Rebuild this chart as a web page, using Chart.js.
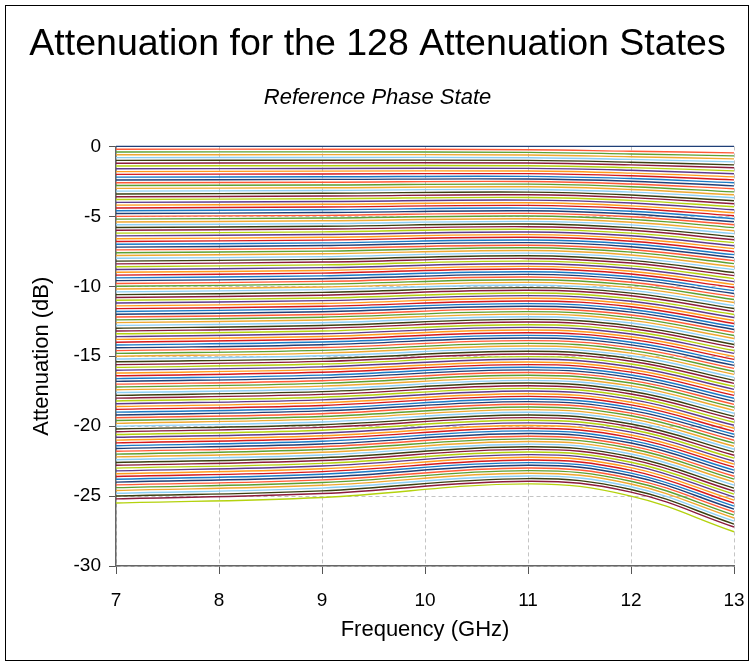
<!DOCTYPE html>
<html><head><meta charset="utf-8">
<script src="https://cdn.jsdelivr.net/npm/chart.js@4"></script>
<style>html,body{margin:0;padding:0;background:#fff}canvas{display:block}</style>
</head>
<body>
<canvas id="c" width="755" height="666"></canvas>
<script>
// Frequencies (GHz) at which the attenuation of every state is read
const frequencies = [7, 9, 11, 12, 13];

// Attenuation (dB) of the 128 states (state 0 = reference) at each frequency
const att7GHz = [
0,-0.2,-0.4,-0.6,-0.8,-1,-1.2,-1.4,-1.6,-1.8,-2,-2.2,-2.4,-2.6,-2.8,-3,
-3.2,-3.4,-3.6,-3.8,-4,-4.2,-4.4,-4.6,-4.8,-5,-5.2,-5.4,-5.6,-5.8,-6,-6.2,
-6.4,-6.6,-6.8,-7,-7.2,-7.4,-7.6,-7.8,-8,-8.2,-8.4,-8.6,-8.8,-9,-9.2,-9.4,
-9.6,-9.8,-10,-10.2,-10.4,-10.6,-10.8,-11,-11.2,-11.4,-11.6,-11.8,-12,-12.2,-12.4,-12.6,
-12.8,-13,-13.2,-13.4,-13.6,-13.8,-14,-14.2,-14.4,-14.6,-14.8,-15,-15.2,-15.4,-15.6,-15.8,
-16,-16.2,-16.4,-16.6,-16.8,-17,-17.2,-17.4,-17.6,-17.8,-18,-18.2,-18.4,-18.6,-18.8,-19,
-19.2,-19.4,-19.6,-19.8,-20,-20.2,-20.4,-20.6,-20.8,-21,-21.2,-21.4,-21.6,-21.8,-22,-22.2,
-22.4,-22.6,-22.8,-23,-23.2,-23.4,-23.6,-23.8,-24,-24.2,-24.4,-24.6,-24.8,-25,-25.2,-25.5];

const att9GHz = [
0,-0.20,-0.39,-0.59,-0.79,-0.99,-1.18,-1.38,-1.58,-1.77,-1.97,-2.17,-2.36,-2.56,-2.76,-2.96,
-3.15,-3.35,-3.55,-3.74,-3.94,-4.14,-4.33,-4.53,-4.73,-4.93,-5.12,-5.32,-5.52,-5.71,-5.91,-6.11,
-6.30,-6.50,-6.70,-6.90,-7.09,-7.29,-7.49,-7.68,-7.88,-8.08,-8.27,-8.47,-8.67,-8.87,-9.06,-9.26,
-9.46,-9.65,-9.85,-10.05,-10.24,-10.44,-10.64,-10.84,-11.03,-11.23,-11.43,-11.62,-11.82,-12.02,-12.21,-12.41,
-12.61,-12.81,-13.00,-13.20,-13.40,-13.59,-13.79,-13.99,-14.18,-14.38,-14.58,-14.78,-14.97,-15.17,-15.37,-15.56,
-15.76,-15.96,-16.15,-16.35,-16.55,-16.75,-16.94,-17.14,-17.34,-17.53,-17.73,-17.93,-18.12,-18.32,-18.52,-18.72,
-18.91,-19.11,-19.31,-19.50,-19.70,-19.90,-20.09,-20.29,-20.49,-20.69,-20.88,-21.08,-21.28,-21.47,-21.67,-21.87,
-22.06,-22.26,-22.46,-22.66,-22.85,-23.05,-23.25,-23.44,-23.64,-23.84,-24.03,-24.23,-24.43,-24.63,-24.82,-25.10];

const att11GHz = [
0,-0.24,-0.43,-0.62,-0.81,-1.00,-1.19,-1.38,-1.57,-1.76,-1.95,-2.14,-2.33,-2.51,-2.70,-2.89,
-3.08,-3.27,-3.46,-3.65,-3.84,-4.03,-4.22,-4.41,-4.60,-4.79,-4.98,-5.17,-5.36,-5.55,-5.74,-5.93,
-6.12,-6.31,-6.50,-6.69,-6.88,-7.07,-7.25,-7.44,-7.63,-7.82,-8.01,-8.20,-8.39,-8.58,-8.77,-8.96,
-9.15,-9.34,-9.53,-9.72,-9.91,-10.10,-10.29,-10.48,-10.67,-10.86,-11.05,-11.24,-11.43,-11.62,-11.81,-11.99,
-12.18,-12.37,-12.56,-12.75,-12.94,-13.13,-13.32,-13.51,-13.70,-13.89,-14.08,-14.27,-14.46,-14.65,-14.84,-15.03,
-15.22,-15.41,-15.60,-15.79,-15.98,-16.17,-16.36,-16.55,-16.73,-16.92,-17.11,-17.30,-17.49,-17.68,-17.87,-18.06,
-18.25,-18.44,-18.63,-18.82,-19.01,-19.20,-19.39,-19.58,-19.77,-19.96,-20.15,-20.34,-20.53,-20.72,-20.91,-21.10,
-21.29,-21.47,-21.66,-21.85,-22.04,-22.23,-22.42,-22.61,-22.80,-22.99,-23.18,-23.37,-23.56,-23.75,-23.94,-24.13];

const att12GHz = [
0,-0.35,-0.54,-0.74,-0.93,-1.13,-1.32,-1.52,-1.71,-1.91,-2.10,-2.30,-2.49,-2.69,-2.88,-3.08,
-3.27,-3.47,-3.66,-3.86,-4.05,-4.25,-4.44,-4.64,-4.83,-5.03,-5.22,-5.42,-5.61,-5.81,-6.00,-6.20,
-6.39,-6.59,-6.78,-6.98,-7.17,-7.37,-7.56,-7.76,-7.95,-8.15,-8.34,-8.54,-8.73,-8.93,-9.12,-9.32,
-9.51,-9.71,-9.90,-10.10,-10.29,-10.49,-10.68,-10.88,-11.07,-11.27,-11.46,-11.66,-11.85,-12.05,-12.24,-12.44,
-12.63,-12.83,-13.02,-13.22,-13.41,-13.61,-13.80,-14.00,-14.19,-14.39,-14.58,-14.78,-14.97,-15.17,-15.36,-15.56,
-15.75,-15.95,-16.14,-16.34,-16.53,-16.73,-16.92,-17.12,-17.31,-17.51,-17.70,-17.90,-18.09,-18.29,-18.48,-18.68,
-18.87,-19.07,-19.26,-19.46,-19.65,-19.85,-20.04,-20.24,-20.43,-20.63,-20.82,-21.02,-21.21,-21.41,-21.60,-21.80,
-21.99,-22.19,-22.38,-22.58,-22.77,-22.97,-23.16,-23.36,-23.55,-23.75,-23.94,-24.14,-24.33,-24.53,-24.72,-25.00];

const att13GHz = [
0,-0.46,-0.68,-0.89,-1.11,-1.32,-1.53,-1.75,-1.96,-2.18,-2.39,-2.60,-2.82,-3.03,-3.25,-3.46,
-3.67,-3.89,-4.10,-4.32,-4.53,-4.74,-4.96,-5.17,-5.39,-5.60,-5.81,-6.03,-6.24,-6.46,-6.67,-6.88,
-7.10,-7.31,-7.53,-7.74,-7.95,-8.17,-8.38,-8.60,-8.81,-9.02,-9.24,-9.45,-9.67,-9.88,-10.09,-10.31,
-10.52,-10.74,-10.95,-11.16,-11.38,-11.59,-11.81,-12.02,-12.23,-12.45,-12.66,-12.88,-13.09,-13.30,-13.52,-13.73,
-13.95,-14.16,-14.37,-14.59,-14.80,-15.02,-15.23,-15.44,-15.66,-15.87,-16.09,-16.30,-16.51,-16.73,-16.94,-17.16,
-17.37,-17.58,-17.80,-18.01,-18.23,-18.44,-18.65,-18.87,-19.08,-19.30,-19.51,-19.72,-19.94,-20.15,-20.37,-20.58,
-20.79,-21.01,-21.22,-21.44,-21.65,-21.86,-22.08,-22.29,-22.51,-22.72,-22.93,-23.15,-23.36,-23.58,-23.79,-24.00,
-24.22,-24.43,-24.65,-24.86,-25.07,-25.29,-25.50,-25.72,-25.93,-26.14,-26.36,-26.57,-26.79,-27.00,-27.21,-27.55];

const xTickLabels = [7, 8, 9, 10, 11, 12, 13];
const yTickLabels = [0, -5, -10, -15, -20, -25, -30];

const palette = ['#1F3F77','#FF5A36','#5BA033','#F0A830','#8DCFF5','#3B3F10',
                 '#8C1C3C','#B4D20E','#5D3A8E','#FF9B1A','#D7191C','#1A7BC6'];

const columns = [att7GHz, att9GHz, att11GHz, att12GHz, att13GHz];
const datasets = att7GHz.map((_, k) => ({
  label: 'State ' + k,
  data: frequencies.map((f, i) => ({x: f, y: columns[i][k]})),
  borderColor: palette[k % palette.length],
  borderWidth: 1.4,
  pointRadius: 0,
  tension: 0.4,
  fill: false,
  clip: 3
}));

const FONT = "'Liberation Sans', Arial, sans-serif";

const framePlugin = {
  id: 'frame',
  beforeDraw(chart) {
    const ctx = chart.ctx;
    ctx.save(); ctx.fillStyle = '#fff'; ctx.fillRect(0, 0, chart.width, chart.height); ctx.restore();
  },
  afterDraw(chart) {
    const ctx = chart.ctx;
    ctx.save(); ctx.strokeStyle = '#000'; ctx.lineWidth = 1;
    ctx.strokeRect(5.5, 5.5, 743, 655); ctx.restore();
  }
};

new Chart(document.getElementById('c'), {
  type: 'line',
  data: { datasets },
  plugins: [framePlugin],
  options: {
    responsive: false,
    animation: false,
    devicePixelRatio: 1,
    layout: { padding: { left: 21, right: 21, top: 0, bottom: 0 } },
    plugins: {
      legend: { display: false },
      tooltip: { enabled: false },
      title: {
        display: true, text: 'Attenuation for the 128 Attenuation States', color: '#000',
        font: { family: FONT, size: 37.5, weight: 'normal' }, padding: { top: 22, bottom: 0 }
      },
      subtitle: {
        display: true, text: 'Reference Phase State', color: '#000',
        font: { family: FONT, size: 22, style: 'italic', weight: 'normal' }, padding: { top: 18, bottom: 35 }
      }
    },
    scales: {
      x: {
        type: 'linear', min: 7, max: 13,
        afterBuildTicks(s) { s.ticks = xTickLabels.map(v => ({value: v})); },
        afterFit(s) { s.height = 100; s.paddingLeft = 0; s.paddingRight = 0; },
        ticks: { color: '#000', font: { family: FONT, size: 19 }, padding: 15 },
        grid: { color: '#c4c4c4', lineWidth: 1, tickLength: 8, tickColor: '#555', tickWidth: 1 },
        border: { display: true, color: '#666', width: 1.5, dash: [4, 3] },
        title: { display: true, text: 'Frequency (GHz)', color: '#000',
                 font: { family: FONT, size: 22 }, padding: { top: 0, bottom: 23 } }
      },
      y: {
        type: 'linear', min: -30, max: 0,
        afterBuildTicks(s) { s.ticks = yTickLabels.map(v => ({value: v})); },
        afterFit(s) { s.width = 95; },
        ticks: { color: '#000', font: { family: FONT, size: 19 }, padding: 8 },
        grid: { color: '#c4c4c4', lineWidth: 1, tickLength: 7, tickColor: '#555', tickWidth: 1 },
        border: { display: true, color: '#666', width: 1.5, dash: [4, 3] },
        title: { display: true, text: 'Attenuation (dB)', color: '#000',
                 font: { family: FONT, size: 22 }, padding: { top: 8, bottom: 0 } }
      }
    }
  }
});
</script>
</body></html>
